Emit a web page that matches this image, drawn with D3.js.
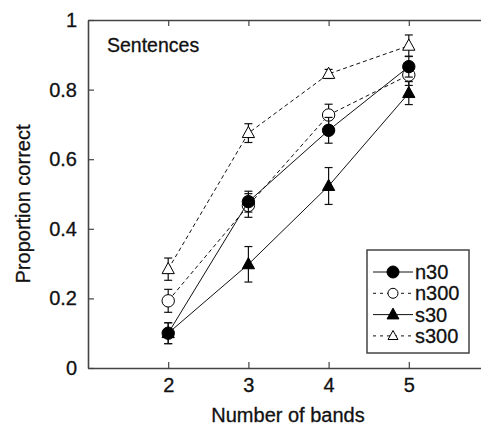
<!DOCTYPE html>
<html>
<head>
<meta charset="utf-8">
<script src="https://cdn.jsdelivr.net/npm/d3@7"></script>
<style>
  body { margin: 0; background: #fff; }
  svg { display: block; font-family: Arial, "Liberation Sans", sans-serif; }
  svg text { stroke: #111; stroke-width: 0.3px; }
</style>
</head>
<body>
<div class="canvas"></div>
<script>
// ---- data ----
const bands = [2, 3, 4, 5];
const seriesNames = ['n30', 'n300', 's30', 's300'];
const n30 = [0.100, 0.478, 0.683, 0.866];
const n30Err = [0.030, 0.030, 0.037, 0.030];
const n300 = [0.193, 0.467, 0.727, 0.842];
const n300Err = [0.033, 0.034, 0.031, 0.030];
const s30 = [0.100, 0.298, 0.523, 0.790];
const s30Err = [0.030, 0.051, 0.053, 0.033];
const s300 = [0.284, 0.675, 0.845, 0.926];
const s300Err = [0.032, 0.027, 0.013, 0.031];
const yTicks = [0, 0.2, 0.4, 0.6, 0.8, 1];

// chart dimensions
const dims = { width: 481, height: 428 };
const plot = { left: 88, right: 489, top: 20, bottom: 368 };

const svg = d3.select('.canvas')
    .append('svg')
    .attr('width', dims.width)
    .attr('height', dims.height);

const x = d3.scaleLinear().domain([1, 6]).range([plot.left, plot.right]);
const y = d3.scaleLinear().domain([0, 1]).range([plot.bottom, plot.top]);

// series table: values + style
const series = [
    { name: seriesNames[0], vals: n30, err: n30Err, dash: null, shape: 'circle', fill: '#000' },
    { name: seriesNames[1], vals: n300, err: n300Err, dash: '4,3', shape: 'circle', fill: '#fff' },
    { name: seriesNames[2], vals: s30, err: s30Err, dash: null, shape: 'triangle', fill: '#000' },
    { name: seriesNames[3], vals: s300, err: s300Err, dash: '4,3', shape: 'triangle', fill: '#fff' }
];

// ---- axes (ticks pointing inward) ----
const axisColor = '#444';
function styleAxis(g) {
    g.select('.domain').attr('stroke', axisColor).attr('stroke-width', 1.6);
    g.selectAll('.tick line').attr('stroke', axisColor).attr('stroke-width', 1.2);
    g.selectAll('.tick text').attr('fill', '#111').attr('font-size', 20);
}

svg.append('g')
    .attr('transform', `translate(0,${plot.bottom})`)
    .call(d3.axisBottom(x).tickValues(bands).tickFormat(d3.format('d'))
        .tickSizeInner(-6).tickSizeOuter(0).tickPadding(10))
    .call(styleAxis);

svg.append('g')
    .attr('transform', `translate(0,${plot.top})`)
    .call(d3.axisTop(x).tickValues(bands).tickFormat('')
        .tickSizeInner(-6).tickSizeOuter(0))
    .call(styleAxis);

svg.append('g')
    .attr('transform', `translate(${plot.left},0)`)
    .call(d3.axisLeft(y).tickValues(yTicks).tickFormat(d => d === 0 || d === 1 ? d : d3.format('.1f')(d))
        .tickSizeInner(-6).tickSizeOuter(0).tickPadding(11))
    .call(styleAxis);

svg.append('g')
    .attr('transform', `translate(${plot.right},0)`)
    .call(d3.axisRight(y).tickValues(yTicks).tickFormat('')
        .tickSizeInner(-6).tickSizeOuter(0))
    .call(styleAxis);

// axis titles
svg.append('text')
    .attr('x', 288).attr('y', 422)
    .attr('text-anchor', 'middle')
    .attr('font-size', 20).attr('fill', '#111')
    .text('Number of bands');

svg.append('text')
    .attr('transform', 'translate(30,204) rotate(-90)')
    .attr('text-anchor', 'middle')
    .attr('font-size', 20).attr('fill', '#111')
    .text('Proportion correct');

svg.append('text')
    .attr('x', 107).attr('y', 52)
    .attr('font-size', 19.5).attr('fill', '#111')
    .text('Sentences');

// ---- markers ----
function drawMarker(g, shape, fill, size) {
    if (shape === 'circle') {
        g.append('circle').attr('r', size)
            .attr('fill', fill).attr('stroke', '#000').attr('stroke-width', 1);
    } else {
        const h = size * 1.8;
        g.append('path')
            .attr('d', `M0,${-h * 0.6}L${h * 0.55},${h * 0.4}L${-h * 0.55},${h * 0.4}Z`)
            .attr('fill', fill).attr('stroke', '#000').attr('stroke-width', 1);
    }
}

const line = d3.line()
    .x((d, i) => x(bands[i]))
    .y(d => y(d));

const plotG = svg.append('g');

// draw open series first so filled markers sit on top
[3, 1, 2, 0].forEach(k => {
    const s = series[k];
    const g = plotG.append('g');
    g.append('path')
        .datum(s.vals)
        .attr('d', line)
        .attr('fill', 'none')
        .attr('stroke', '#111')
        .attr('stroke-width', 1)
        .attr('stroke-dasharray', s.dash);

    // error bars
    s.vals.forEach((v, i) => {
        const cx = x(bands[i]);
        const eg = g.append('g').attr('stroke', '#111').attr('stroke-width', 1.2);
        eg.append('line').attr('x1', cx).attr('x2', cx)
            .attr('y1', y(v - s.err[i])).attr('y2', y(v + s.err[i]));
        [v - s.err[i], v + s.err[i]].forEach(e => {
            eg.append('line').attr('x1', cx - 4).attr('x2', cx + 4)
                .attr('y1', y(e)).attr('y2', y(e));
        });
    });

    s.vals.forEach((v, i) => {
        const m = g.append('g').attr('transform', `translate(${x(bands[i])},${y(v)})`);
        drawMarker(m, s.shape, s.fill, 6.2);
    });
});

// ---- legend ----
const legend = svg.append('g').attr('transform', 'translate(367,250)');
legend.append('rect')
    .attr('width', 102).attr('height', 103)
    .attr('fill', '#fff').attr('stroke', axisColor).attr('stroke-width', 1.5);

series.forEach((s, i) => {
    const ly = 22 + i * 21.3;
    const row = legend.append('g').attr('transform', `translate(0,${ly})`);
    row.append('line')
        .attr('x1', 6).attr('x2', 46)
        .attr('stroke', '#111').attr('stroke-width', 1)
        .attr('stroke-dasharray', s.dash ? '3,4' : null);
    const m = row.append('g').attr('transform', 'translate(26,0)');
    drawMarker(m, s.shape, s.fill, s.fill === '#000' ? 6 : 5);
    row.append('text')
        .attr('x', 48).attr('y', 7)
        .attr('font-size', 20).attr('fill', '#111')
        .text(s.name);
});
</script>
</body>
</html>
